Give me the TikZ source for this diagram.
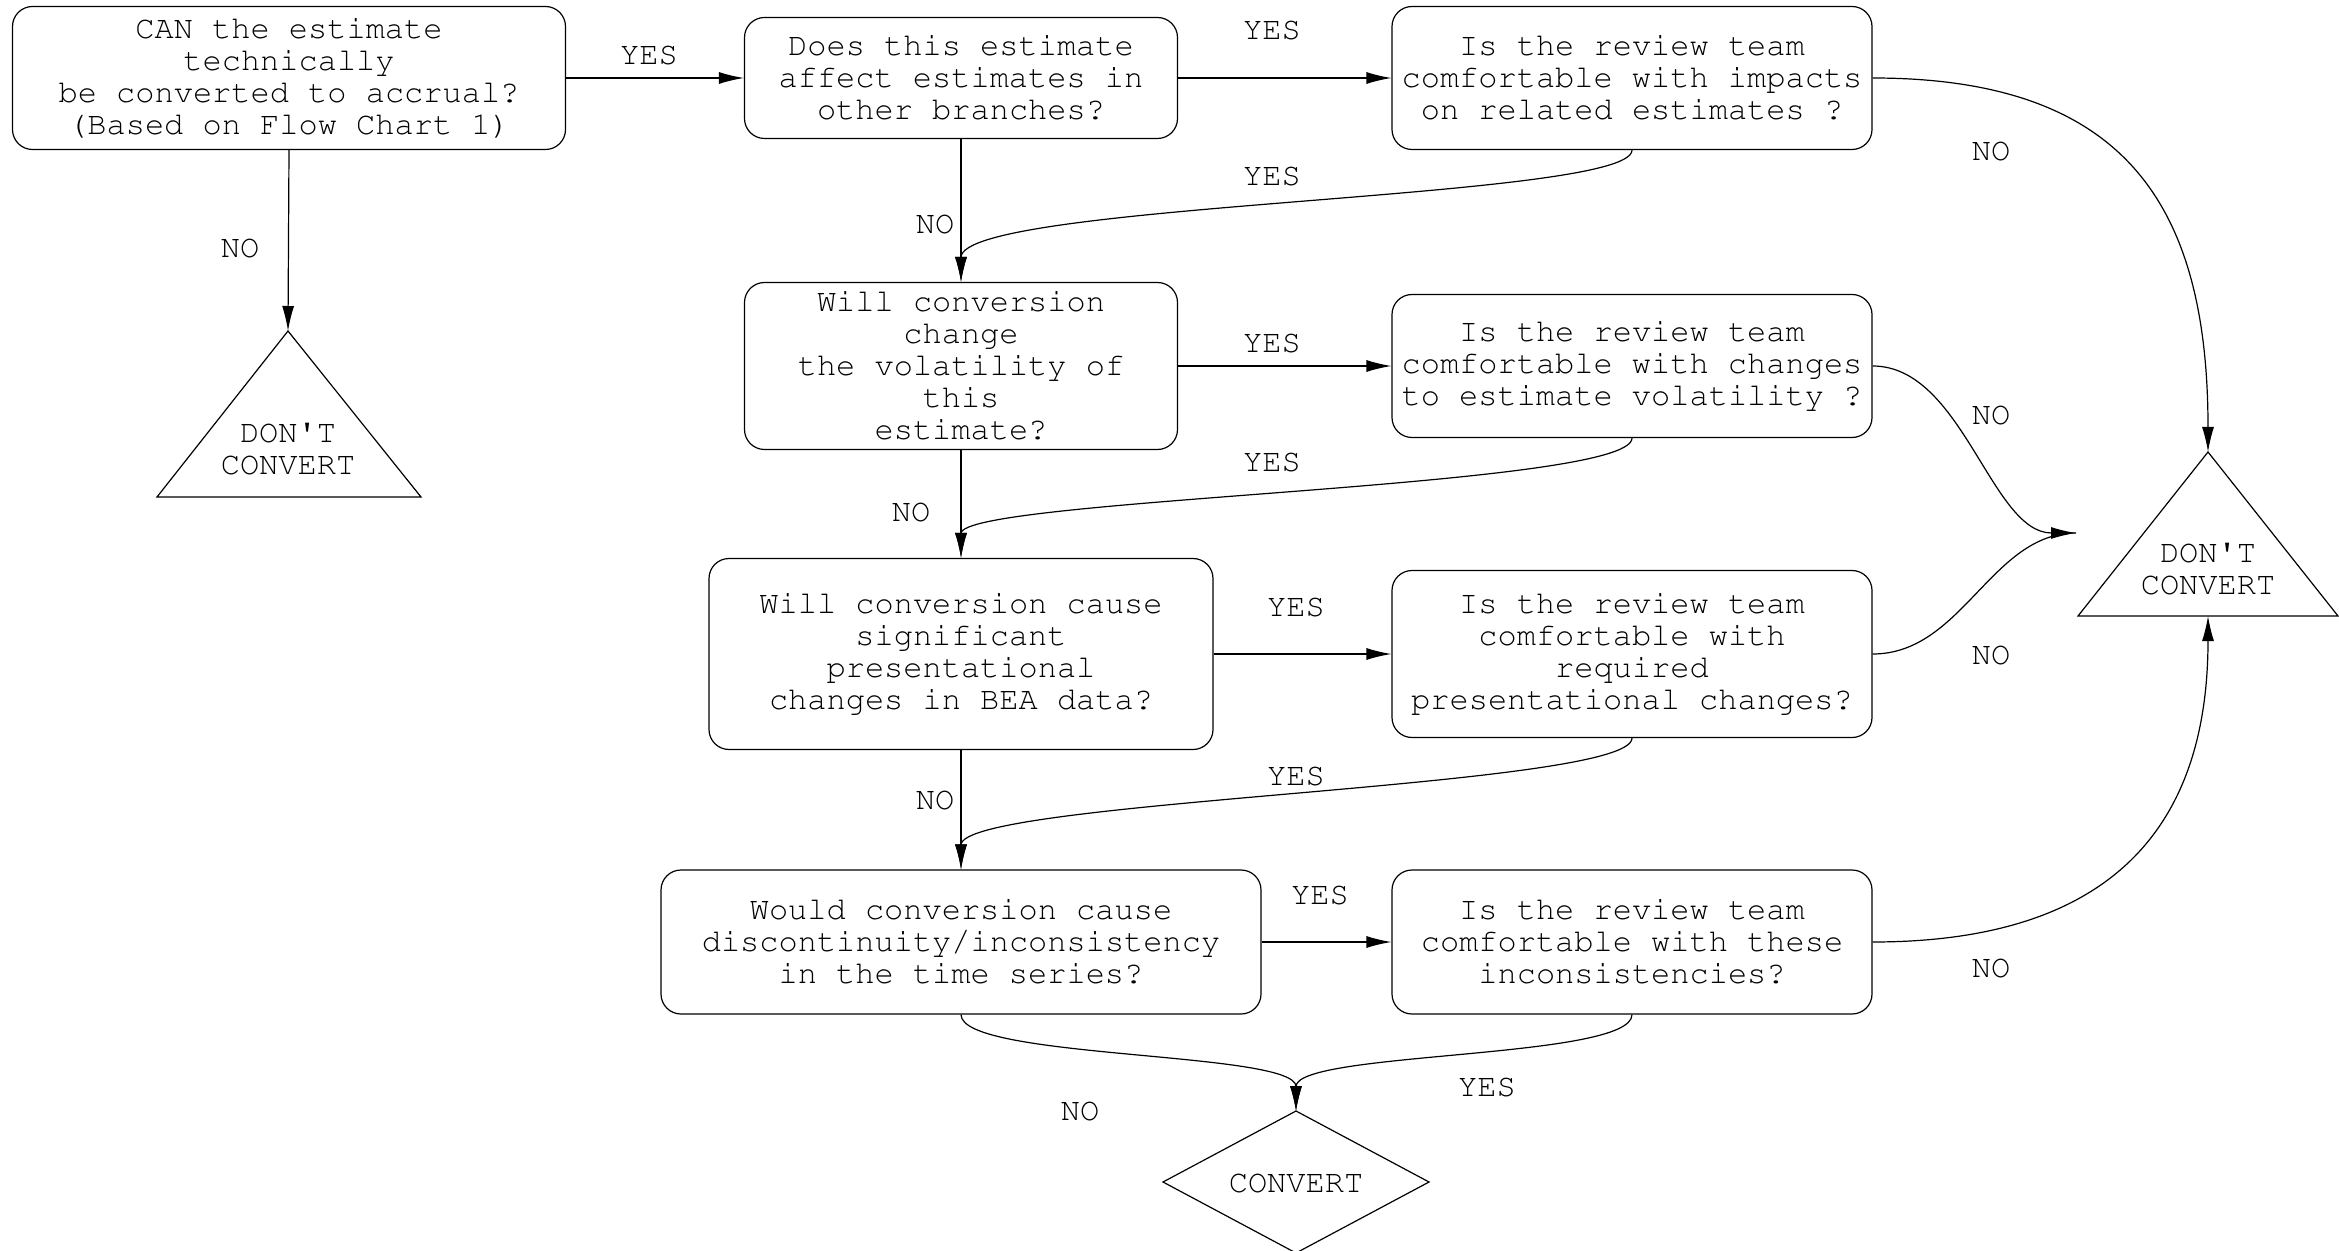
\documentclass[tikz,border=0pt]{standalone}
\usepackage[T1]{fontenc}
\usepackage{textcomp}
\usetikzlibrary{arrows.meta}
\newcommand{\chartfont}{\fontencoding{T1}\fontfamily{pcr}\fontsize{16}{16}\selectfont}
\newcommand{\apos}{\textquotesingle}
\begin{document}
\begin{tikzpicture}[x=0.5pt,y=-0.5pt,line width=0.6pt,
  every node/.style={font=\chartfont},
  box/.style={draw,rounded corners=10pt,align=center,inner sep=0pt},
  term/.style={align=center,inner sep=0pt},
  lbl/.style={inner sep=0pt},
  arr/.style={-{Latex[length=12.5pt,width=6pt]}}]
\useasboundingbox (0,0) rectangle (2339,1251);

% question boxes
\node[box,minimum width=276.5pt,minimum height=71.5pt] (a) at (289,78)
  {CAN the estimate\\technically\\be converted to accrual?\\(Based on Flow Chart 1)};
\node[box,minimum width=216.5pt,minimum height=60.5pt] (b) at (961,78)
  {Does this estimate\\affect estimates in\\other branches?};
\node[box,minimum width=240pt,minimum height=71.5pt] (c) at (1632,78)
  {Is the review team\\comfortable with impacts\\on related estimates ?};
\node[box,minimum width=216.5pt,minimum height=83.5pt] (d) at (961,366)
  {Will conversion\\change\\the volatility of\\this\\estimate?};
\node[box,minimum width=240pt,minimum height=71.5pt] (e) at (1632,366)
  {Is the review team\\comfortable with changes\\to estimate volatility ?};
\node[box,minimum width=252pt,minimum height=95.5pt] (f) at (961,654)
  {Will conversion cause\\significant\\presentational\\changes in BEA data?};
\node[box,minimum width=240pt,minimum height=83.5pt] (g) at (1632,654)
  {Is the review team\\comfortable with\\required\\presentational changes?};
\node[box,minimum width=300pt,minimum height=72pt] (h) at (961,942)
  {Would conversion cause\\discontinuity/inconsistency\\in the time series?};
\node[box,minimum width=240pt,minimum height=72pt] (i) at (1632,942)
  {Is the review team\\comfortable with these\\inconsistencies?};

% terminal shapes
\coordinate (t1apex) at (288,331);
\draw (t1apex) -- (157,497) -- (421,497) -- cycle;
\node[term] (t1) at (288,449) {DON\apos T\\CONVERT};

\coordinate (t2apex) at (2208,452);
\coordinate (t2base) at (2208,616);
\draw (t2apex) -- (2078,616) -- (2338,616) -- cycle;
\node[term] (t2) at (2208,569) {DON\apos T\\CONVERT};

\coordinate (dtop) at (1296,1111);
\draw (dtop) -- (1429,1182) -- (1296,1253) -- (1163,1182) -- cycle;
\node[term] (conv) at (1296,1183) {CONVERT};

\coordinate (merge) at (2076,533);

% connectors
\draw[arr] (a.east) -- (b.west);
\draw[arr] (b.east) -- (c.west);
\draw[arr] (a.south) -- (t1apex);
\draw[arr] (b.south) -- (d.north);
\draw[arr] (c.south) .. controls +(0,50) and +(0,-80) .. (d.north);
\draw[arr] (d.east) -- (e.west);
\draw[arr] (d.south) -- (f.north);
\draw[arr] (e.south) .. controls +(0,50) and +(0,-60) .. (f.north);
\draw[arr] (f.east) -- (g.west);
\draw[arr] (f.south) -- (h.north);
\draw[arr] (g.south) .. controls +(0,50) and +(0,-70) .. (h.north);
\draw[arr] (h.east) -- (i.west);
\draw[arr] (h.south) .. controls +(0,45) and +(0,-60) .. (dtop);
\draw[arr] (i.south) .. controls +(0,45) and +(0,-60) .. (dtop);
\draw[arr] (c.east) .. controls +(250,0) and +(0,-250) .. (t2apex);
\draw[arr] (e.east) .. controls +(90,0) and +(-85,0) .. (merge);
\draw (g.east) .. controls +(90,0) and +(-85,0) .. (merge);
\draw[arr] (i.east) .. controls +(250,0) and +(0,200) .. (t2base);

% answer labels
\node[lbl] (l1) at (649,55) {YES};
\node[lbl] (l2) at (1272,30) {YES};
\node[lbl] (l3) at (1991,151) {NO};
\node[lbl] (l4) at (240,248) {NO};
\node[lbl] (l5) at (935,224) {NO};
\node[lbl] (l6) at (1272,176) {YES};
\node[lbl] (l7) at (1272,343) {YES};
\node[lbl] (l8) at (1991,415) {NO};
\node[lbl] (l9) at (1272,462) {YES};
\node[lbl] (l10) at (911,512) {NO};
\node[lbl] (l11) at (1296,607) {YES};
\node[lbl] (l12) at (1991,655) {NO};
\node[lbl] (l13) at (1296,776) {YES};
\node[lbl] (l14) at (935,800) {NO};
\node[lbl] (l15) at (1320,895) {YES};
\node[lbl] (l16) at (1991,968) {NO};
\node[lbl] (l17) at (1080,1111) {NO};
\node[lbl] (l18) at (1487,1087) {YES};
\end{tikzpicture}
\end{document}
